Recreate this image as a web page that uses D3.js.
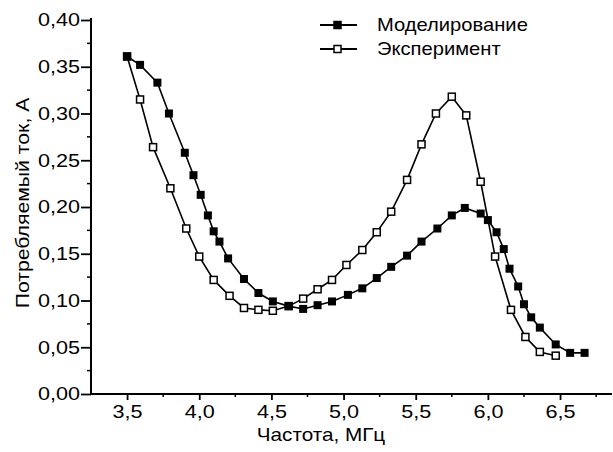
<!DOCTYPE html>
<html>
<head>
<meta charset="utf-8">
<script src="https://cdn.jsdelivr.net/npm/d3@7"></script>
<style>
  body { margin: 0; background: #fff; }
  text { font-family: "Liberation Sans", Arial, sans-serif; fill: #000; }
</style>
</head>
<body>
<svg width="613" height="452"></svg>
<script>
// Частота, МГц / ток, А
var expFreq = [3.50, 3.59, 3.68, 3.80, 3.91, 4.00, 4.10, 4.21, 4.31, 4.41, 4.51, 4.62, 4.72, 4.82, 4.92,
  5.02, 5.13, 5.23, 5.33, 5.44, 5.54, 5.64, 5.75, 5.85, 5.95, 6.05, 6.16, 6.26, 6.36, 6.47];
var expCurrent = [0.361, 0.315, 0.264, 0.220, 0.177, 0.147, 0.122, 0.105, 0.092, 0.090, 0.089, 0.094, 0.102, 0.112, 0.122,
  0.138, 0.154, 0.173, 0.195, 0.229, 0.267, 0.300, 0.318, 0.298, 0.227, 0.147, 0.090, 0.061, 0.045, 0.041];

var modFreq = [3.50, 3.59, 3.71, 3.79, 3.90, 3.96, 4.01, 4.06, 4.10, 4.14, 4.20, 4.31, 4.41, 4.51, 4.62,
  4.72, 4.82, 4.92, 5.03, 5.13, 5.23, 5.33, 5.44, 5.54, 5.65, 5.75, 5.84, 5.95, 6.00, 6.06,
  6.11, 6.15, 6.21, 6.25, 6.30, 6.36, 6.47, 6.57, 6.67];
var modCurrent = [0.361, 0.352, 0.333, 0.300, 0.258, 0.234, 0.213, 0.191, 0.174, 0.163, 0.145, 0.123, 0.108, 0.099, 0.094,
  0.091, 0.095, 0.099, 0.106, 0.113, 0.124, 0.136, 0.148, 0.163, 0.177, 0.191, 0.199, 0.193, 0.186, 0.173,
  0.155, 0.134, 0.115, 0.096, 0.082, 0.071, 0.053, 0.044, 0.044];

var xTicks = [3.5, 4.0, 4.5, 5.0, 5.5, 6.0, 6.5];
var yTicks = [0, 0.05, 0.10, 0.15, 0.20, 0.25, 0.30, 0.35, 0.40];
var legendLabels = ['Моделирование', 'Эксперимент'];

var svg = d3.select('svg');

var x = d3.scaleLinear().domain([3.25, 6.86]).range([91, 612]);
var y = d3.scaleLinear().domain([0, 0.40]).range([394, 20]);

var comma = function (fmt) {
  return function (d) { return d3.format(fmt)(d).replace('.', ','); };
};

// minor ticks
var xMinor = d3.range(3.75, 6.8, 0.5);
var yMinor = d3.range(0.025, 0.4, 0.05);

svg.append('g')
  .selectAll('line')
  .data(xMinor)
  .enter()
  .append('line')
  .attr('x1', function (d) { return x(d); })
  .attr('x2', function (d) { return x(d); })
  .attr('y1', 394)
  .attr('y2', 397)
  .style('stroke', '#000')
  .style('stroke-width', 1.5);

svg.append('g')
  .selectAll('line')
  .data(yMinor)
  .enter()
  .append('line')
  .attr('x1', 87)
  .attr('x2', 91)
  .attr('y1', function (d) { return y(d); })
  .attr('y2', function (d) { return y(d); })
  .style('stroke', '#000')
  .style('stroke-width', 1.5);

var xAxis = svg.append('g')
  .attr('transform', 'translate(0,394)')
  .call(d3.axisBottom(x).tickValues(xTicks).tickFormat(comma('.1f')).tickSize(6).tickPadding(5));

var yAxis = svg.append('g')
  .attr('transform', 'translate(91,0)')
  .call(d3.axisLeft(y).tickValues(yTicks).tickFormat(comma('.2f')).tickSize(10).tickPadding(1));

[xAxis, yAxis].forEach(function (a) {
  a.select('.domain').style('stroke-width', 2).attr('d', null);
  a.selectAll('.tick line').style('stroke-width', 1.8);
  a.selectAll('text').style('font-size', '18px').attr('font-family', null);
});
xAxis.select('.domain').remove();
yAxis.select('.domain').remove();
xAxis.selectAll('text').attr('transform', 'scale(1.2,1)');
yAxis.selectAll('text').attr('transform', 'scale(1.2,1)').attr('x', -11 / 1.2);

// axis lines
svg.append('line').attr('x1', 91).attr('x2', 612).attr('y1', 394).attr('y2', 394)
  .style('stroke', '#000').style('stroke-width', 2);
svg.append('line').attr('x1', 91).attr('x2', 91).attr('y1', 18).attr('y2', 395)
  .style('stroke', '#000').style('stroke-width', 2);

// axis titles
svg.append('text')
  .attr('transform', 'translate(321,441) scale(1.15,1)')
  .attr('text-anchor', 'middle')
  .style('font-size', '18px')
  .text('Частота, МГц');

svg.append('text')
  .attr('transform', 'translate(29,203) rotate(-90) scale(1.18,1)')
  .attr('text-anchor', 'middle')
  .style('font-size', '18px')
  .text('Потребляемый ток, А');

var line = d3.line()
  .x(function (d) { return x(d[0]); })
  .y(function (d) { return y(d[1]); });

var expData = d3.zip(expFreq, expCurrent);
var modData = d3.zip(modFreq, modCurrent);

svg.append('path').datum(expData).attr('d', line)
  .style('fill', 'none').style('stroke', '#000').style('stroke-width', 1.6);
svg.append('path').datum(modData).attr('d', line)
  .style('fill', 'none').style('stroke', '#000').style('stroke-width', 1.6);

svg.append('g')
  .selectAll('rect')
  .data(expData)
  .enter()
  .append('rect')
  .attr('x', function (d) { return x(d[0]) - 3.5; })
  .attr('y', function (d) { return y(d[1]) - 3.5; })
  .attr('width', 7)
  .attr('height', 7)
  .style('fill', '#fff')
  .style('stroke', '#000')
  .style('stroke-width', 1.5);

svg.append('g')
  .selectAll('rect')
  .data(modData)
  .enter()
  .append('rect')
  .attr('x', function (d) { return x(d[0]) - 4; })
  .attr('y', function (d) { return y(d[1]) - 4; })
  .attr('width', 8)
  .attr('height', 8)
  .style('fill', '#000');

// legend
var legend = svg.append('g')
  .selectAll('g')
  .data(legendLabels)
  .enter()
  .append('g')
  .attr('transform', function (d, i) { return 'translate(320,' + (25 + i * 24) + ')'; });

legend.append('line')
  .attr('x1', 0).attr('x2', 37)
  .style('stroke', '#000').style('stroke-width', 1.8);

legend.append('rect')
  .attr('x', 14).attr('y', -3.5)
  .attr('width', 7).attr('height', 7)
  .style('fill', function (d, i) { return i === 0 ? '#000' : '#fff'; })
  .style('stroke', '#000')
  .style('stroke-width', 1.5);

legend.append('text')
  .attr('transform', 'translate(57,6) scale(1.12,1)')
  .style('font-size', '18px')
  .text(function (d) { return d; });
</script>
</body>
</html>
